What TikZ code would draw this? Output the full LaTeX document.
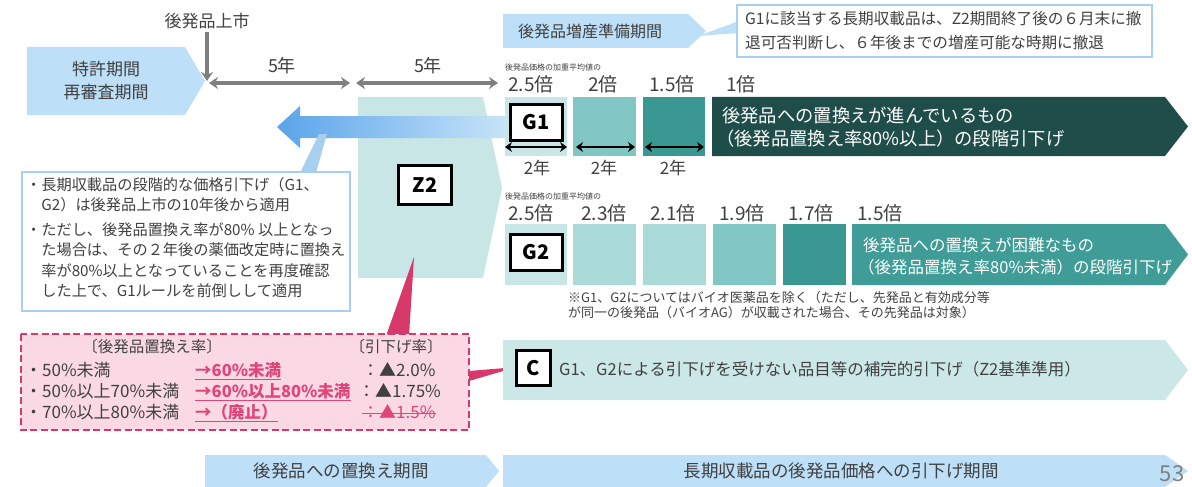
\documentclass[tikz,border=0pt]{standalone}
\usepackage{fontspec}
\setmainfont{Noto Sans CJK JP}
\usetikzlibrary{arrows.meta,calc}
\definecolor{txtgray}{HTML}{404040}
\definecolor{lblue}{HTML}{BDDFF7}
\definecolor{boxblue}{HTML}{A6CFF0}
\definecolor{arrL}{HTML}{5AA4EA}
\definecolor{arrR}{HTML}{C6E3F8}
\definecolor{arrgray}{HTML}{7F7F7F}
\definecolor{tealL}{HTML}{C7E6E5}
\definecolor{tealM}{HTML}{A9DAD7}
\definecolor{tealN}{HTML}{80C7C3}
\definecolor{tealD}{HTML}{3A9893}
\definecolor{tealX}{HTML}{3F9C97}
\definecolor{greenD}{HTML}{1F4D4A}
\definecolor{cteal}{HTML}{CBE7E6}
\definecolor{pinkB}{HTML}{D8396B}
\definecolor{pinkF}{HTML}{FAD9E4}
\definecolor{pinkT}{HTML}{E0457A}
\newcommand{\fsz}[2]{\fontsize{#1}{#2}\selectfont}
\begin{document}
\begin{tikzpicture}[x=1pt,y=-1pt,
  txt/.style={inner sep=0pt, text=txtgray},
  lblbox/.style={draw=black, line width=3pt, fill=white, inner sep=0pt, font=\bfseries\fsz{20}{20}, text=black},
  garrow/.style={draw=arrgray, line width=3.5pt, -{Stealth[length=9pt,width=12pt]}},
  gdbl/.style={draw=arrgray, line width=3.5pt, {Stealth[length=9pt,width=12pt]}-{Stealth[length=9pt,width=12pt]}},
  bdbl/.style={draw=black, line width=2.5pt, {Stealth[length=7pt,width=10pt]}-{Stealth[length=7pt,width=10pt]}},
  val/.style={txt, font=\fsz{19}{19}},
  smallcap/.style={txt, font=\fsz{8}{8}, anchor=west},
  ptxt/.style={inner sep=0pt, text=pinkT, font=\bfseries\fsz{16.5}{16.5}, anchor=west},
  pline/.style={draw=pinkT, line width=1.2pt},
  ktxt/.style={txt, font=\fsz{17}{17}, anchor=west}
]
\useasboundingbox (0,0) rectangle (1192,487);

% ---------- top left ----------
\fill[lblue] (27,47) -- (185,47) -- (205,81) -- (185,115) -- (27,115) -- cycle;
\node[txt, font=\fsz{17}{23}, align=center] (patent) at (106,81) {特許期間\\再審査期間};

\node[txt, font=\fsz{17}{17}] (launch) at (207,21) {後発品上市};
\coordinate (launchpt) at (207,81);
\draw[garrow] ([yshift=-3pt]launch.south) -- (launchpt);

\coordinate (d1a) at (209,83); \coordinate (d1b) at (350,83);
\coordinate (d2a) at (356,83); \coordinate (d2b) at (498,83);
\draw[gdbl] (d1a) -- (d1b);
\draw[gdbl] (d2a) -- (d2b);
\node[txt, font=\fsz{18}{18}] (y5a) at (282,66) {5年};
\node[txt, font=\fsz{18}{18}] (y5b) at (428,66) {5年};

% ---------- Z2 ----------
\fill[tealL] (358,97) -- (483,97) -- (502,188) -- (483,278) -- (358,278) -- cycle;
\node[lblbox, minimum width=53pt, minimum height=39pt] (z2) at (425,185) {Z2};

% big blue arrow
\shade[left color=arrL, right color=arrR] (277,127) -- (300,106) -- (300,116) -- (505,116) -- (505,138) -- (300,138) -- (300,148) -- cycle;

% callout tail + left note box
\fill[boxblue] (319,134) -- (327,134) -- (316,173) -- (300,173) -- cycle;
\draw[boxblue, line width=2pt, fill=white] (22,172) rectangle (350,311);
\node[txt, font=\fsz{15.2}{20.5}, align=left, anchor=north west] (b1) at (26,177)
  {・長期収載品の段階的な価格引下げ（G1、\\\phantom{・}G2）は後発品上市の10年後から適用};
\node[txt, font=\fsz{15.2}{20.5}, align=left, anchor=north west] (b2) at (26,222)
  {・ただし、後発品置換え率が80\% 以上となっ\\\phantom{・}た場合は、その２年後の薬価改定時に置換え\\\phantom{・}率が80\%以上となっていることを再度確認\\\phantom{・}した上で、G1ルールを前倒しして適用};

% ---------- top right ----------
\fill[lblue] (503,14) -- (688,14) -- (706,31) -- (688,48) -- (503,48) -- cycle;
\node[txt, font=\fsz{16}{16}] (prep) at (590,31) {後発品増産準備期間};
\fill[lblue] (698,36) -- (739,21) -- (739,33) -- cycle;
\draw[boxblue, line width=2pt, fill=white] (737,5) rectangle (1152,57);
\node[txt, font=\fsz{15.6}{24}, align=left, anchor=west] (g1note) at (745,31)
  {G1に該当する長期収載品は、Z2期間終了後の６月末に撤\\退可否判断し、６年後までの増産可能な時期に撤退};

% ---------- G1 row ----------
\node[smallcap] (cap1) at (505,67) {後発品価格の加重平均値の};
\node[val] (v11) at (531,84) {2.5倍};
\node[val] (v12) at (603,84) {2倍};
\node[val] (v13) at (672,84) {1.5倍};
\node[val] (v14) at (741,84) {1倍};
\fill[tealL] (505,97) rectangle (567,156);
\fill[tealN] (573,97) rectangle (636,156);
\fill[tealD] (643,97) rectangle (705,156);
\fill[greenD] (712,97) -- (1165,97) -- (1188,126.5) -- (1165,156) -- (712,156) -- cycle;
\node[inner sep=0pt, text=white, font=\fsz{18.3}{23}, align=left, anchor=west] (g1txt) at (716,127)
  {\hspace*{6pt}後発品への置換えが進んでいるもの\\（後発品置換え率80\%以上）の段階引下げ};
\node[lblbox, minimum width=52pt, minimum height=36pt] (g1) at (536,122) {G1};
\coordinate (t1a) at (505,147); \coordinate (t1b) at (567,147);
\coordinate (t2a) at (576,147); \coordinate (t2b) at (635,147);
\coordinate (t3a) at (645,147); \coordinate (t3b) at (704,147);
\draw[bdbl] (t1a) -- (t1b);
\draw[bdbl] (t2a) -- (t2b);
\draw[bdbl] (t3a) -- (t3b);
\node[txt, font=\fsz{17}{17}] (y2a) at (537,168) {2年};
\node[txt, font=\fsz{17}{17}] (y2b) at (604,168) {2年};
\node[txt, font=\fsz{17}{17}] (y2c) at (673,168) {2年};

% ---------- G2 row ----------
\node[smallcap] (cap2) at (505,196) {後発品価格の加重平均値の};
\node[val] (v21) at (531,213) {2.5倍};
\node[val] (v22) at (604,213) {2.3倍};
\node[val] (v23) at (673,213) {2.1倍};
\node[val] (v24) at (742,213) {1.9倍};
\node[val] (v25) at (811,213) {1.7倍};
\node[val] (v26) at (880,213) {1.5倍};
\fill[tealL] (505,224) rectangle (567,285);
\fill[tealM] (573,224) rectangle (636,285);
\fill[tealM] (643,224) rectangle (706,285);
\fill[tealN] (713,224) rectangle (776,285);
\fill[tealD] (783,224) rectangle (846,285);
\fill[tealX] (852,224) -- (1165,224) -- (1188,254.5) -- (1165,285) -- (852,285) -- cycle;
\node[inner sep=0pt, text=white, font=\fsz{16.5}{22}, align=left, anchor=west] (g2txt) at (858,256)
  {\hspace*{5pt}後発品への置換えが困難なもの\\（後発品置換え率80\%未満）の段階引下げ};
\node[lblbox, minimum width=52pt, minimum height=36pt] (g2) at (536,252) {G2};
\node[txt, font=\fsz{13}{15}, align=left, anchor=north west] (note) at (568,291)
  {※G1、G2についてはバイオ医薬品を除く（ただし、先発品と有効成分等\\が同一の後発品（バイオAG）が収載された場合、その先発品は対象）};

% ---------- pink box ----------
\fill[pinkB] (414,257) -- (409,336) -- (386,336) -- cycle;
\fill[pinkB] (469,371) -- (469,381) -- (517,367) -- cycle;
\draw[pinkB, line width=2.5pt, dash pattern=on 7pt off 3.5pt, fill=pinkF] (21,334) rectangle (469,430);
\node[txt, font=\fsz{15.5}{15.5}] (hd1) at (152,347) {〔後発品置換え率〕};
\node[txt, font=\fsz{15.5}{15.5}] (hd2) at (396,347) {〔引下げ率〕};
\node[ktxt] (r1) at (25,370) {・50\%未満};
\node[ktxt] (r2) at (25,391) {・50\%以上70\%未満};
\node[ktxt] (r3) at (25,412) {・70\%以上80\%未満};
\node[ptxt] (p1) at (195,370) {→60\%未満};
\node[ptxt] (p2) at (195,391) {→60\%以上80\%未満};
\node[ptxt] (p3) at (195,412) {→（廃止）};
\draw[pline] ([yshift=-3pt]p1.base west) -- ([yshift=-3pt]p1.base east);
\draw[pline] ([yshift=-3pt]p2.base west) -- ([yshift=-3pt]p2.base east);
\draw[pline] ([yshift=-3pt]p3.base west) -- ([yshift=-3pt]p3.base east);
\node[ktxt] (k1) at (362,370) {：▲2.0\%};
\node[ktxt] (k2) at (358,391) {：▲1.75\%};
\node[inner sep=0pt, text=pinkT, font=\fsz{17}{17}, anchor=west] (k3) at (362,412) {：▲1.5\%};
\draw[pline, line width=1pt] ([yshift=5.5pt]k3.base west) -- ([yshift=5.5pt]k3.base east);

% ---------- C row ----------
\fill[cteal] (503,340) -- (1165,340) -- (1188,370) -- (1165,400) -- (503,400) -- cycle;
\node[lblbox, minimum width=34pt, minimum height=35pt] (c) at (533,368) {C};
\node[txt, font=\fsz{16.5}{16.5}, anchor=west] (ctxt) at (559,369)
  {G1、G2による引下げを受けない品目等の補完的引下げ（Z2基準準用）};

% ---------- bottom bars ----------
\fill[lblue] (205,455) -- (486,455) -- (499,471) -- (486,487) -- (205,487) -- cycle;
\node[txt, font=\fsz{17.5}{17.5}] (bt1) at (341,471) {後発品への置換え期間};
\fill[lblue] (503,455) -- (1165,455) -- (1188,471) -- (1165,487) -- (503,487) -- cycle;
\node[txt, font=\fsz{17.5}{17.5}] (bt2) at (841,471) {長期収載品の後発品価格への引下げ期間};
\node[inner sep=0pt, text=arrgray, font=\fsz{22}{22}] (pg) at (1172,474) {53};
\end{tikzpicture}
\end{document}
